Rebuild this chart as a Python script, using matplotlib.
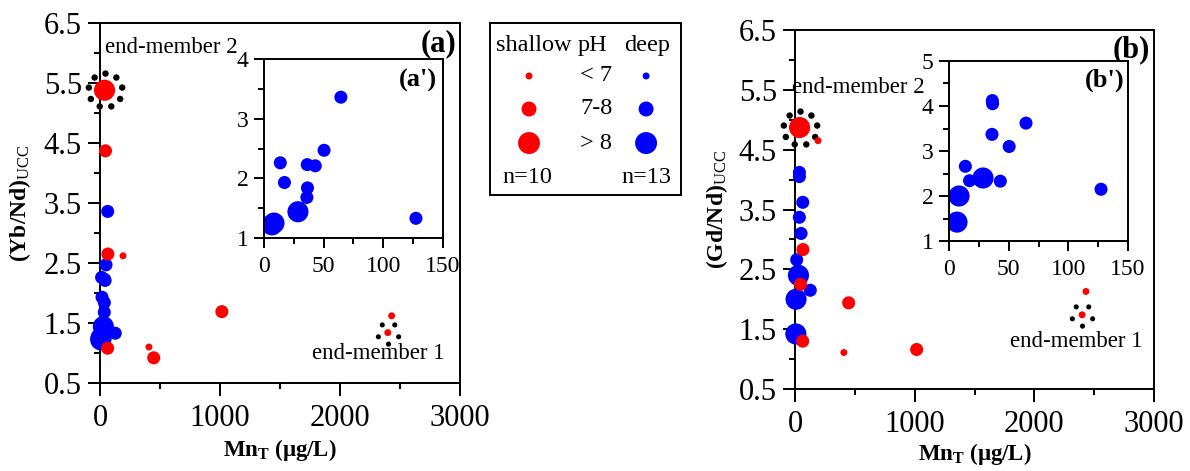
import numpy as np
import matplotlib
matplotlib.use('Agg')
import matplotlib.pyplot as plt
from matplotlib.path import Path
from matplotlib.markers import MarkerStyle
from matplotlib.ticker import MultipleLocator

plt.rcParams['font.family'] = ['Liberation Serif', 'DejaVu Serif']
plt.rcParams['mathtext.fontset'] = 'custom'
plt.rcParams['mathtext.rm'] = 'Liberation Serif'
plt.rcParams['mathtext.bf'] = 'Liberation Serif:bold'
plt.rcParams['mathtext.it'] = 'Liberation Serif:italic'

# shallow wells (n=10); pH class 0: <7, 1: 7-8, 2: >8
shallow_mn = [38, 46, 66, 192, 64, 408, 448, 1016, 2431, 2399]
shallow_yb_nd = [5.38, 4.37, 2.65, 2.62, 1.08, 1.10, 0.92, 1.69, 1.62, 1.34]
shallow_gd_nd = [4.87, 2.25, 2.83, 4.65, 1.30, 1.11, 1.94, 1.16, 2.13, 1.74]
shallow_ph = [2, 1, 1, 0, 1, 0, 1, 1, 0, 0]

# deep wells (n=13)
deep_mn = [6.7, 8.4, 28.5, 17.2, 13.7, 43.0, 36.3, 36.5, 36.0, 50.4, 64.5, 127.4, 7.5]
deep_yb_nd = [1.22, 1.25, 1.44, 1.93, 2.26, 2.21, 2.23, 1.84, 1.68, 2.47, 3.36, 1.33, 1.22]
deep_gd_nd = [1.42, 2.00, 2.40, 2.34, 2.66, 2.33, 4.12, 4.05, 3.37, 3.10, 3.62, 2.15, 1.42]
deep_ph = [2, 2, 2, 1, 1, 1, 1, 1, 1, 1, 1, 1, 0]

end_member_2 = 0   # index in shallow arrays
end_member_1 = 9

ph_labels = ['< 7', '7-8', '> 8']
dot_diam = np.array([5.0, 9.4, 15.2])      # marker diameters (pt)
legend_diam = np.array([5.0, 10.8, 15.8])

RED = '#ff0000'
BLUE = '#0000ff'


def ring(n, dot, start):
    t = start + 2 * np.pi * np.arange(n) / n
    return MarkerStyle(Path.make_compound_path(
        *[Path.circle((np.cos(a), np.sin(a)), dot) for a in t]))


ring2 = ring(9, 0.19, np.pi / 2)
ring1 = ring(5, 0.24, -np.pi / 2)


def style_axes(ax, lw=1.4):
    for s in ax.spines.values():
        s.set_linewidth(lw)
    ax.tick_params(which='both', direction='out', width=lw, top=False, right=False)


fig = plt.figure(figsize=(11.9, 4.71), dpi=100)

panels = [
    dict(rect=[0.0840, 0.1868, 0.3025, 0.7643], inset=[0.2218, 0.4947, 0.1504, 0.3800],
         sh=shallow_yb_nd, dp=deep_yb_nd, ylab=r'$\mathbf{(Yb/Nd)}_{\mathrm{UCC}}$',
         tag='(a)', itag="(a')", iy=(1, 4), ylx=-0.186, xly=-0.15,
         em2=(0.014, 0.931), em1=(0.958, 0.083), tagy=0.942, itagpos=(0.966, 0.883)),
    dict(rect=[0.6681, 0.1741, 0.3017, 0.7622], inset=[0.7975, 0.4883, 0.1504, 0.3822],
         sh=shallow_gd_nd, dp=deep_gd_nd, ylab=r'$\mathbf{(Gd/Nd)}_{\mathrm{UCC}}$',
         tag='(b)', itag="(b')", iy=(1, 5), ylx=-0.181, xly=-0.145,
         em2=(-0.008, 0.841), em1=(0.969, 0.131), tagy=0.944, itagpos=(0.983, 0.894)),
]

for p in panels:
    ax = fig.add_axes(p['rect'])
    style_axes(ax)
    sh = np.array(p['sh'])
    dp = np.array(p['dp'])
    mn_s = np.array(shallow_mn)
    ax.scatter(mn_s[[end_member_2]], sh[[end_member_2]], s=29 ** 2, marker=ring2,
               c='black', linewidths=0, zorder=2, clip_on=False)
    ax.scatter(mn_s[[end_member_1]], sh[[end_member_1]], s=19 ** 2, marker=ring1,
               c='black', linewidths=0, zorder=2, clip_on=False)
    ax.scatter(deep_mn, dp, s=dot_diam[deep_ph] ** 2, c=BLUE, linewidths=0, zorder=3,
               clip_on=False)
    ax.scatter(shallow_mn, sh, s=dot_diam[shallow_ph] ** 2, c=RED, linewidths=0, zorder=4,
               clip_on=False)
    ax.set_xlim(0, 3000)
    ax.set_ylim(0.5, 6.5)
    ax.xaxis.set_major_locator(MultipleLocator(1000))
    ax.xaxis.set_minor_locator(MultipleLocator(500))
    ax.yaxis.set_minor_locator(MultipleLocator(0.5))
    ax.set_yticks(np.arange(0.5, 6.6, 1.0))
    ax.tick_params(which='major', length=9, labelsize=22, pad=4)
    ax.tick_params(axis='x', which='major', pad=6)
    ax.tick_params(which='minor', length=4.5)
    ax.set_ylabel(p['ylab'], fontsize=17)
    ax.set_xlabel(r'$\mathbf{Mn_T}$ (μg/L)', fontsize=16.5, fontweight='bold')
    ax.yaxis.set_label_coords(p['ylx'], 0.5)
    ax.xaxis.set_label_coords(0.5, p['xly'])
    ax.text(p['em2'][0], p['em2'][1], 'end-member 2', transform=ax.transAxes,
            fontsize=16.5, ha='left', va='center', zorder=1)
    ax.text(p['em1'][0], p['em1'][1], 'end-member 1', transform=ax.transAxes,
            fontsize=16.5, ha='right', va='center')
    ax.text(0.99, p['tagy'], p['tag'], transform=ax.transAxes, fontsize=22,
            fontweight='bold', ha='right', va='center')

    ins = fig.add_axes(p['inset'])
    ins.set_zorder(5)
    style_axes(ins)
    ins.scatter(deep_mn, dp, s=dot_diam[deep_ph] ** 2, c=BLUE, linewidths=0)
    ins.set_xlim(0, 150)
    ins.set_ylim(*p['iy'])
    ins.xaxis.set_major_locator(MultipleLocator(50))
    ins.xaxis.set_minor_locator(MultipleLocator(25))
    ins.yaxis.set_major_locator(MultipleLocator(1))
    ins.yaxis.set_minor_locator(MultipleLocator(0.5))
    ins.tick_params(which='major', length=7, labelsize=17, pad=4)
    ins.tick_params(axis='x', which='major', pad=6)
    ins.tick_params(which='minor', length=4)
    ins.text(p['itagpos'][0], p['itagpos'][1], p['itag'], transform=ins.transAxes,
             fontsize=19, fontweight='bold', ha='right', va='center')

# legend box
lg = fig.add_axes([0.4118, 0.5860, 0.1605, 0.3652])
style_axes(lg)
lg.set_xlim(0, 1)
lg.set_ylim(0, 1)
lg.set_xticks([])
lg.set_yticks([])
row_y = [0.692, 0.5, 0.302]
lg.text(0.23, 0.872, 'shallow', fontsize=17.5, ha='center', va='center')
lg.text(0.535, 0.872, 'pH', fontsize=17.5, ha='center', va='center')
lg.text(0.82, 0.872, 'deep', fontsize=17.5, ha='center', va='center')
lg.scatter([0.204] * 3, row_y, s=legend_diam ** 2, c=RED, linewidths=0)
lg.scatter([0.817] * 3, row_y, s=legend_diam ** 2, c=BLUE, linewidths=0)
for y, lab in zip(row_y, ph_labels):
    lg.text(0.555, y, lab, fontsize=17.5, ha='center', va='center')
lg.text(0.194, 0.099, 'n=%d' % len(shallow_mn), fontsize=17.5, ha='center', va='center')
lg.text(0.82, 0.099, 'n=%d' % len(deep_mn), fontsize=17.5, ha='center', va='center')

fig.savefig('out.png', dpi=100)
